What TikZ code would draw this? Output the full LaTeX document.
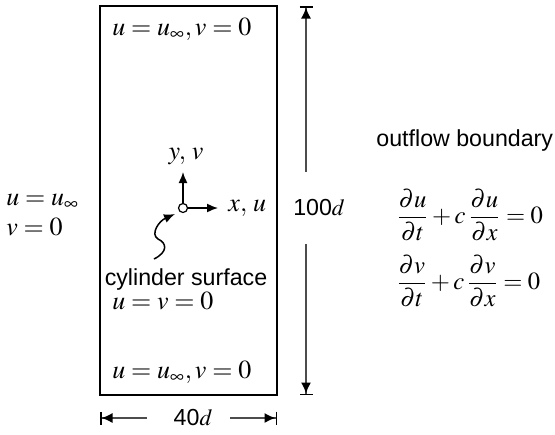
\documentclass[tikz,border=0pt]{standalone}
\usepackage{amsmath}
\usepackage{mathptmx}
\usepackage[no-math]{fontspec}
\setmainfont{Liberation Sans}
\usetikzlibrary{arrows.meta}

\begin{document}
\begin{tikzpicture}[x=0.5pt,y=-0.5pt,>={Latex[length=5.5pt,width=4.5pt]},
  font=\fontsize{11.6}{14}\selectfont,line cap=butt,
  every node/.style={inner sep=0pt},
  eqn/.style={font=\fontsize{13}{16}\selectfont},
  dimline/.style={black!70,line width=0.75pt}]
\useasboundingbox (0,0) rectangle (555,434);
% domain and boundary values
\draw[line width=0.75pt] (100,6) rectangle (277,395);
\node[eqn,anchor=west] (inflowtop) at (112,29) {$u=u_\infty, v=0$};
\node[eqn,anchor=west] (inflowbot) at (112,372) {$u=u_\infty, v=0$};
\node[eqn,anchor=west] (inletu) at (6,202) {$u=u_\infty$};
\node[eqn,anchor=west] (inletv) at (6,227) {$v=0$};
% cylinder and axes
\node[circle,draw,fill=white,minimum size=4.5pt,line width=0.6pt] (cyl) at (183,208) {};
\coordinate (yend) at (183,172);
\coordinate (xend) at (218,208);
\draw[->,line width=0.75pt] (cyl.north) -- (yend);
\draw[->,line width=0.75pt] (cyl.east) -- (xend);
\node[eqn] (ylbl) at (186,156) {$y,\,v$};
\node[eqn,anchor=west] (xlbl) at (228,208) {$x,\,u$};
\coordinate (tail) at (154,259);
\coordinate (tip) at (175,214);
\draw[->,line width=0.75pt] (tail) .. controls (168,252) and (167,243) .. (158,239)
  .. controls (150,234) and (159,221) .. (tip);
\node (surf) at (186,279) {cylinder surface};
\node[eqn,anchor=west] (noslip) at (112,301) {$u=v=0$};
% dimensions
\coordinate (htop) at (306,6);
\coordinate (hgapa) at (306,172);
\coordinate (hgapb) at (306,244);
\coordinate (hbot) at (306,395);
\node (height) at (319,208) {100$d$};
\draw[dimline,{Bar[width=6.5pt,black]Latex[length=5.5pt,width=5pt,black]}-] (htop) -- (hgapa);
\draw[dimline,-{Latex[length=5.5pt,width=5pt,black]Bar[width=6.5pt,black]}] (hgapb) -- (hbot);
\coordinate (wleft) at (100,418);
\coordinate (wgapa) at (147,418);
\coordinate (wgapb) at (230,418);
\coordinate (wright) at (277,418);
\node (width) at (193,418) {40$d$};
\draw[dimline,{Bar[width=6.5pt,black]Latex[length=5.5pt,width=5pt,black]}-] (wleft) -- (wgapa);
\draw[dimline,-{Latex[length=5.5pt,width=5pt,black]Bar[width=6.5pt,black]}] (wgapb) -- (wright);
% outflow condition
\node[eqn,anchor=west] (outflow) at (376,140) {\fontsize{11.6}{14}\selectfont outflow boundary};
\node[anchor=west,font=\fontsize{12.3}{15}\selectfont] (equ) at (396,215)
  {$\dfrac{\partial u}{\partial t}+c\,\dfrac{\partial u}{\partial x}=0$};
\node[anchor=west,font=\fontsize{12.3}{15}\selectfont] (eqv) at (396,281)
  {$\dfrac{\partial v}{\partial t}+c\,\dfrac{\partial v}{\partial x}=0$};
\end{tikzpicture}
\end{document}
